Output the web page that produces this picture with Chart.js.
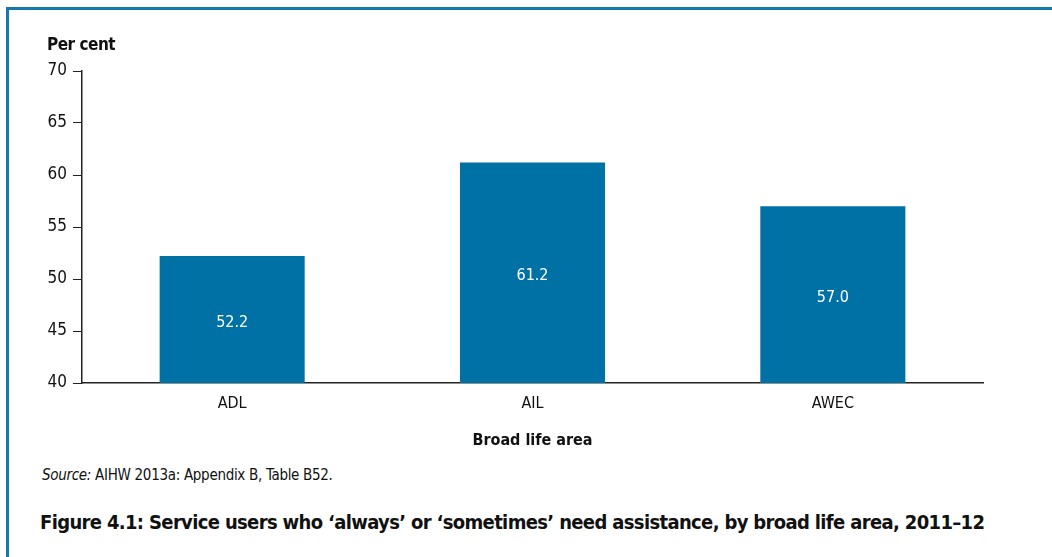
<!DOCTYPE html>
<html lang="en">
<head>
  <meta charset="UTF-8" />
  <title>Figure 4.1</title>
  <script src="https://cdn.jsdelivr.net/npm/chart.js"></script>
  <style>
    body {
        margin: 0;
        background: #fff;
        font-family: "DejaVu Sans Condensed", "DejaVu Sans", sans-serif;
        font-stretch: condensed;
        color: #111;
    }
    .frame {
        position: absolute;
        left: 6px;
        top: 7px;
        width: 1046px;
        height: 550px;
        border-top: 3px solid #1679ad;
        border-left: 3px solid #1679ad;
    }
    .chart {
        position: absolute;
        left: 0;
        top: 0;
        width: 1052px;
        height: 450px;
    }
    .ytitle {
        position: absolute;
        left: 47px;
        top: 34px;
        font-weight: bold;
        font-size: 17px;
        letter-spacing: -0.5px;
    }
    .source {
        position: absolute;
        left: 42px;
        top: 466px;
        font-size: 15px;
        letter-spacing: -0.3px;
    }
    .caption {
        position: absolute;
        left: 40px;
        top: 510px;
        font-weight: bold;
        font-size: 20px;
        letter-spacing: -0.65px;
        white-space: nowrap;
    }
  </style>
</head>
<body>
  <div class="frame"></div>
  <div class="chart"><canvas id="areaChart"></canvas></div>
  <div class="ytitle">Per cent</div>
  <div class="source"><i>Source:</i> AIHW 2013a: Appendix B, Table B52.</div>
  <div class="caption">Figure 4.1: Service users who ‘always’ or ‘sometimes’ need assistance, by broad life area, 2011–12</div>

  <script>
    const areas = ['ADL', 'AIL', 'AWEC'];
    const shares = [52.2, 61.2, 57.0];
    const yTicks = [40, 45, 50, 55, 60, 65, 70];

    const fontFamily = "'DejaVu Sans Condensed', 'DejaVu Sans', sans-serif";

    // value labels in the middle of each bar (bar.base sits at 0, below the axis, so use the axis minimum)
    const valueLabels = {
      id: 'valueLabels',
      afterDraw(chart) {
        const ctx = chart.ctx;
        const meta = chart.getDatasetMeta(0);
        const bottom = chart.scales.y.getPixelForValue(yTicks[0]);
        ctx.save();
        ctx.font = '16px ' + fontFamily;
        ctx.fillStyle = '#ffffff';
        ctx.textAlign = 'center';
        ctx.textBaseline = 'middle';
        meta.data.forEach((bar, i) => {
          ctx.fillText(shares[i].toFixed(1), bar.x, (bar.y + bottom) / 2 + 3);
        });
        ctx.restore();
      }
    };

    new Chart(document.getElementById('areaChart'), {
      type: 'bar',
      data: {
        labels: areas,
        datasets: [{
          label: 'Per cent',
          data: shares,
          backgroundColor: '#0071a4',
          categoryPercentage: 1,
          barPercentage: 0.483
        }]
      },
      options: {
        responsive: true,
        maintainAspectRatio: false,
        animation: false,
        layout: { padding: { top: 71, right: 69, left: 10, bottom: 0 } },
        plugins: {
          legend: { display: false },
          tooltip: { enabled: false }
        },
        scales: {
          x: {
            grid: { display: true, drawOnChartArea: false, drawTicks: false },
            border: { display: true, color: '#222', width: 1.5 },
            ticks: { color: '#111', padding: 11, font: { family: fontFamily, size: 16 } },
            title: {
              display: true,
              text: 'Broad life area',
              color: '#111',
              padding: { top: 8, bottom: 0 },
              font: { family: fontFamily, size: 16, weight: 'bold' }
            },
            afterFit(scale) { scale.height = 67; }
          },
          y: {
            min: 40,
            max: 70,
            afterBuildTicks(scale) { scale.ticks = yTicks.map(v => ({ value: v })); },
            grid: { drawOnChartArea: false, drawTicks: true, tickLength: 9, color: '#222' },
            border: { display: true, color: '#222', width: 1.5 },
            ticks: { color: '#111', padding: 6, font: { family: fontFamily, size: 17 } },
            afterFit(scale) { scale.width = 72; }
          }
        }
      },
      plugins: [valueLabels]
    });
  </script>
</body>
</html>
